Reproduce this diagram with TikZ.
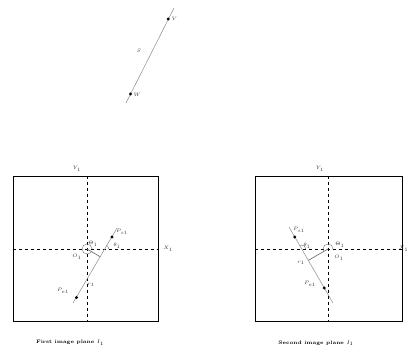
\documentclass[tikz,border=0pt]{standalone}
\usetikzlibrary{calc}
\begin{document}
\begin{tikzpicture}[x=1pt,y=-1pt,
  lbl/.style={font=\tiny, inner sep=0.5pt, text=black!80},
  captext/.style={font=\tiny\bfseries, inner sep=0.5pt},
  dot/.style={circle,fill=black,inner sep=0pt,minimum size=3.2pt},
  frame/.style={draw=black,line width=0.8pt,inner sep=0pt},
  axis/.style={dashed,line width=0.7pt},
  seg/.style={draw=black!45,line width=0.5pt},
  perp/.style={draw=black!55,line width=0.7pt},
  angarc/.style={draw=black!55,line width=0.4pt}]
\useasboundingbox (0,0) rectangle (409,352);

% ---- line S in space
\coordinate (Stop) at (174,8);
\coordinate (Sbot) at (126,103);
\draw[seg] (Sbot) -- (Stop);
\node[dot] (V) at (168.3,19) {};
\node[dot] (W) at (130.5,94) {};
\node[lbl,anchor=west] (Vl) at (171,19) {$V$};
\node[lbl,anchor=west] (Wl) at (133,95) {$W$};
\node[lbl] (Sl) at (139,51) {$S$};

% ---- first image plane
\node[frame,draw,minimum width=145pt,minimum height=145pt] (box1) at (85.5,248.5) {};
\coordinate (O1) at (87,249);
\draw[axis] (O1 |- box1.north) -- (O1 |- box1.south);
\draw[axis] (box1.west |- O1) -- (box1.east |- O1);
\coordinate (A1) at (117,228);
\coordinate (B1) at (73,303);
\draw[seg] (B1) -- (A1);
\coordinate (F1) at ($(B1)!(O1)!(A1)$);
\draw[perp] (O1) -- (F1);
\coordinate (I1) at (104.7,249);
\draw[angarc] ($(I1)+(4,0)$) arc[start angle=0,end angle=-60,radius=4];
\draw[angarc] ($(O1)+(5,0)$) arc[start angle=0,end angle=-329,radius=5];
\node[dot] (Ps1) at (112,237) {};
\node[dot] (Pe1) at (76.5,297.5) {};
\node[lbl] (Ps1l) at (122,232) {$P_{s1}$};
\node[lbl] (Pe1l) at (63,291) {$P_{e1}$};
\node[lbl] (r1a) at (91,285) {$r_1$};
\node[lbl] (t1a) at (117,246) {$\theta_1$};
\node[lbl] (T1a) at (93,244) {$\Theta_1$};
\node[lbl] (O1a) at (77,257) {$O_1$};
\node[lbl] (Y1a) at (77,169) {$Y_1$};
\node[lbl] (X1a) at (168,249) {$X_1$};
\node[captext] (cap1) at (70,343) {First image plane $I_1$};

% ---- second image plane
\node[frame,draw,minimum width=147pt,minimum height=145pt] (box2) at (328.5,248.5) {};
\coordinate (O2) at (328,249);
\draw[axis] (O2 |- box2.north) -- (O2 |- box2.south);
\draw[axis] (box2.west |- O2) -- (box2.east |- O2);
\coordinate (A2) at (289,227);
\coordinate (B2) at (333,303);
\draw[seg] (A2) -- (B2);
\coordinate (F2) at ($(A2)!(O2)!(B2)$);
\draw[perp] (O2) -- (F2);
\coordinate (I2) at (301.7,249);
\draw[angarc] ($(I2)+(4,0)$) arc[start angle=0,end angle=-120,radius=4];
\draw[angarc] ($(O2)+(5,0)$) arc[start angle=0,end angle=-210,radius=5];
\node[dot] (Ps2) at (294.8,237) {};
\node[dot] (Pe2) at (324.3,288) {};
\node[lbl] (Ps2l) at (299,230) {$P_{s1}$};
\node[lbl] (Pe2l) at (310,284) {$P_{e1}$};
\node[lbl] (r1b) at (301,263) {$r_1$};
\node[lbl] (t1b) at (307,246) {$\theta_1$};
\node[lbl] (T1b) at (340,245) {$\Theta_1$};
\node[lbl] (O1b) at (339,258) {$O_1$};
\node[lbl] (Y1b) at (320,169) {$Y_1$};
\node[lbl,anchor=east] (X1b) at (409,249) {$X_1$};
\node[captext] (cap2) at (316,343) {Second image plane $I_1$};
\end{tikzpicture}
\end{document}
